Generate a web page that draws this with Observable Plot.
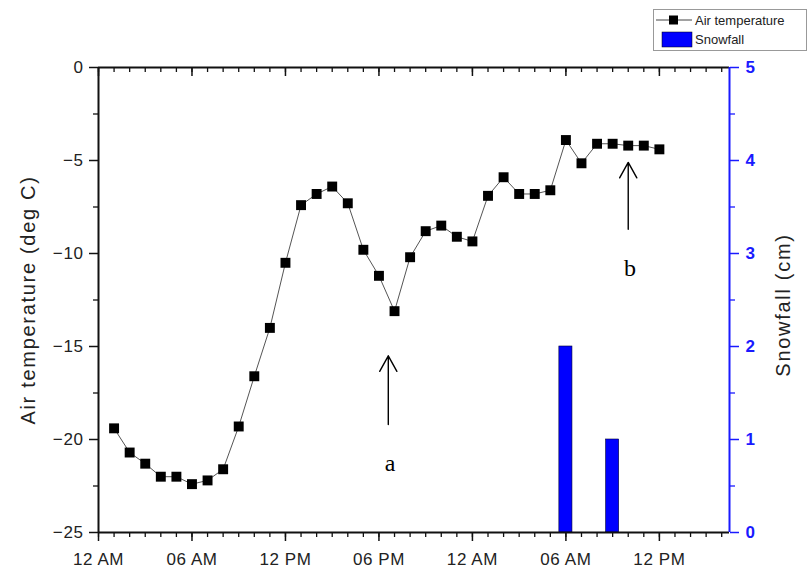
<!DOCTYPE html>
<html>
<head>
<meta charset="utf-8">
<script src="https://cdn.jsdelivr.net/npm/d3@7"></script>
<script src="https://cdn.jsdelivr.net/npm/@observablehq/plot@0.6"></script>
<style>
  html, body { margin: 0; padding: 0; background: #fff; }
  #wrap { position: relative; width: 808px; height: 572px; font-family: "Liberation Sans", Arial, sans-serif; }
  #legend { position: absolute; left: 653px; top: 9px; width: 152px; height: 40px; border: 1px solid #999; background: #fff; font-size: 13px; color: #222; }
  #legend .row { position: absolute; left: 0; display: flex; align-items: center; }
  .ytitle { position: absolute; width: 400px; height: 24px; line-height: 24px; text-align: center; font-size: 20px; letter-spacing: 1.7px; color: #222; transform: rotate(-90deg); white-space: nowrap; }
</style>
</head>
<body>
<div id="wrap">
  <div id="chart"></div>
  <div id="ltitle" class="ytitle"></div>
  <div id="rtitle" class="ytitle"></div>
  <div id="legend">
    <div class="row" style="top:2px;">
      <svg width="40" height="16"><line x1="2" y1="8" x2="38" y2="8" stroke="#444" stroke-width="1"/><rect x="15" y="3.5" width="9" height="9" fill="#000"/></svg>
      <span style="margin-left:1px;">Air temperature</span>
    </div>
    <div class="row" style="top:21px;">
      <svg width="40" height="17"><rect x="8" y="1" width="30" height="15" fill="#0000ff" stroke="#000" stroke-width="0.5"/></svg>
      <span style="margin-left:1px;">Snowfall</span>
    </div>
  </div>
</div>
<script>
// hours since 12 AM of day 1
const hours = d3.range(1, 37);
const airTemp = [
  -19.4, -20.7, -21.3, -22.0, -22.0, -22.4, -22.2, -21.6, -19.3, -16.6, -14.0, -10.5,
  -7.4, -6.8, -6.4, -7.3, -9.8, -11.2, -13.1, -10.2, -8.8, -8.5, -9.1, -9.35,
  -6.9, -5.9, -6.8, -6.8, -6.6, -3.9, -5.15, -4.1, -4.1, -4.2, -4.2, -4.4
];
const snowHours = [30, 33];
const snowCm = [2, 1];
const xMajorTicks = [0, 6, 12, 18, 24, 30, 36];
const xMajorLabels = ["12 AM", "06 AM", "12 PM", "06 PM", "12 AM", "06 AM", "12 PM"];
const xMinorTicks = d3.range(0, 41);
const tempTicks = [-25, -20, -15, -10, -5, 0];
const tempMinor = [-22.5, -17.5, -12.5, -7.5, -2.5];
const snowTicks = [0, 1, 2, 3, 4, 5];
const snowMinor = [0.5, 1.5, 2.5, 3.5, 4.5];
const leftTitle = "Air temperature (deg C)";
const rightTitle = "Snowfall (cm)";
const annotations = [
  {label: "a", x: 18.6, yFrom: -19.2, yTo: -15.5, ty: -21.3},
  {label: "b", x: 34.0, yFrom: -8.7, yTo: -5.1, ty: -10.8}
];

const temps = hours.map((h, i) => ({h, t: airTemp[i]}));
const snow = snowHours.map((h, i) => ({h, s: snowCm[i]}));
const snowToTemp = s => s * 5 - 25;
const xDomain = [0, 40.5];
const mTop = 67, mBottom = 40, H = 572;
const innerH = H - mTop - mBottom;
const blue = "#1a1aff";

const chart = Plot.plot({
  width: 808,
  height: H,
  marginLeft: 98,
  marginRight: 79,
  marginTop: mTop,
  marginBottom: mBottom,
  style: {fontFamily: "Liberation Sans, Arial, sans-serif", fontSize: "17px", letterSpacing: "0.6px", color: "#222", background: "#fff"},
  x: {domain: xDomain},
  y: {domain: [-25, 0]},
  marks: [
    // snowfall bars (mapped onto temperature scale)
    Plot.rect(snow, {x1: d => d.h - 0.42, x2: d => d.h + 0.42, y1: -25, y2: d => snowToTemp(d.s), fill: "#0000ff", stroke: "#000033", strokeWidth: 0.6}),
    // air temperature
    Plot.line(temps, {x: "h", y: "t", stroke: "#555", strokeWidth: 1}),
    Plot.dot(temps, {x: "h", y: "t", symbol: "square", r: 5.6, fill: "#000", stroke: "none"}),
    // bottom axis
    Plot.axisX({ticks: xMinorTicks, tickSize: 5, tickFormat: () => "", stroke: "#111", strokeWidth: 1.3, label: null}),
    Plot.axisX({ticks: xMajorTicks, tickSize: 9, tickPadding: 11, tickFormat: d => xMajorLabels[xMajorTicks.indexOf(d)], stroke: "#111", strokeWidth: 1.5, fill: "#222", label: null}),
    // top axis ticks pointing inward
    Plot.tickX(xMinorTicks, {x: d => d, insetBottom: innerH - 5, stroke: "#111", strokeWidth: 1.3}),
    Plot.tickX(xMajorTicks, {x: d => d, insetBottom: innerH - 9, stroke: "#111", strokeWidth: 1.5}),
    // left axis
    Plot.axisY({ticks: tempMinor, tickSize: 5, tickFormat: () => "", stroke: "#111", strokeWidth: 1.3, label: null}),
    Plot.axisY({ticks: tempTicks, tickSize: 9, tickPadding: 6, tickFormat: d => d < 0 ? "\u2212" + Math.abs(d) : String(d), stroke: "#111", strokeWidth: 1.5, fill: "#222", label: null}),
    // right axis (snowfall)
    Plot.axisY({anchor: "right", ticks: snowMinor.map(snowToTemp), tickSize: 5, tickFormat: () => "", stroke: blue, strokeWidth: 1.3, label: null}),
    Plot.axisY({anchor: "right", ticks: snowTicks.map(snowToTemp), tickSize: 9, tickPadding: 7, tickFormat: d => String((d + 25) / 5), stroke: blue, strokeWidth: 1.5, fill: blue, fontWeight: "bold", label: null}),
    // frame
    Plot.ruleY([-25, 0], {stroke: "#111", strokeWidth: 2}),
    Plot.ruleX([xDomain[0]], {stroke: "#111", strokeWidth: 2, y1: -25, y2: 0}),
    Plot.ruleX([xDomain[1]], {stroke: blue, strokeWidth: 2, y1: -25, y2: 0}),
    // annotations
    Plot.arrow(annotations, {x: "x", y1: "yFrom", y2: "yTo", stroke: "#000", strokeWidth: 1.4, headLength: 19, headAngle: 58}),
    Plot.text(annotations, {x: "x", y: "ty", text: "label", fontFamily: "Liberation Serif, DejaVu Serif, serif", fontSize: 24, fill: "#000", dx: 2})
  ]
});
document.getElementById("chart").appendChild(chart);

// axis titles (rotated), centred on the plot area
const lt = document.getElementById("ltitle");
lt.textContent = leftTitle;
lt.style.left = (28 - 200) + "px";
lt.style.top = (300 - 12) + "px";
const rt = document.getElementById("rtitle");
rt.textContent = rightTitle;
rt.style.left = (783 - 200) + "px";
rt.style.top = (305 - 12) + "px";
</script>
</body>
</html>
